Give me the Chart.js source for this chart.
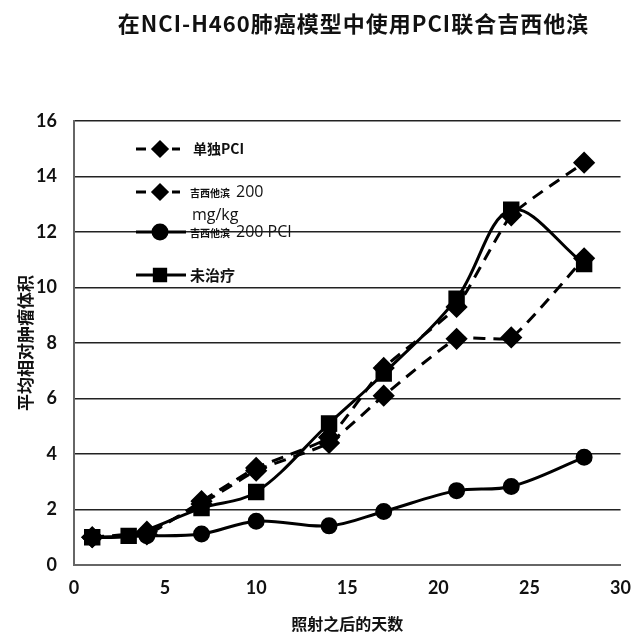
<!DOCTYPE html>
<html>
<head>
<meta charset="utf-8">
<script src="https://cdn.jsdelivr.net/npm/chart.js@4.4.1/dist/chart.umd.min.js"></script>
<style>
    body { margin: 0; background: #fff; }
    #wrap { position: relative; width: 643px; height: 638px; }
    #titulo {
        position: absolute; left: 62px; top: 6px; width: 583px;
        text-align: center; font-family: "Noto Sans CJK SC"; font-weight: 700;
        font-size: 22px; color: #111; letter-spacing: 1px;
    }
</style>
</head>
<body>
<div id="wrap">
    <div id="titulo">在NCI-H460肺癌模型中使用PCI联合吉西他滨</div>
    <canvas id="grafico"></canvas>
</div>
<script>
const seriesNames = ["单独PCI", "吉西他滨 200 mg/kg", "吉西他滨 200 PCI", "未治疗"];

const daysPci = [1, 4, 7, 10, 14, 17, 21, 24, 28];
const valuesPci = [1.0, 1.2, 2.2, 3.4, 4.4, 6.1, 8.15, 8.2, 11.05];

const daysGem = [1, 4, 7, 10, 14, 17, 21, 24, 28];
const valuesGem = [1.0, 1.1, 2.3, 3.5, 4.6, 7.1, 9.3, 12.6, 14.5];

const daysCombo = [1, 4, 7, 10, 14, 17, 21, 24, 28];
const valuesCombo = [1.0, 1.05, 1.12, 1.58, 1.41, 1.93, 2.68, 2.83, 3.88];

const daysUntreated = [1, 3, 7, 10, 14, 17, 21, 24, 28];
const valuesUntreated = [1.0, 1.05, 2.05, 2.63, 5.1, 6.9, 9.6, 12.8, 10.85];

const xTicks = [0, 5, 10, 15, 20, 25, 30];
const yTicks = [0, 2, 4, 6, 8, 10, 12, 14, 16];

const canvas = document.getElementById("grafico");
canvas.width = 643;
canvas.height = 638;

function toPoints(days, values) {
    return days.map((d, i) => ({ x: d, y: values[i] }));
}

const baseDataset = {
    borderColor: "#000",
    backgroundColor: "#000",
    pointBorderColor: "#000",
    pointBackgroundColor: "#000",
    borderWidth: 3,
    tension: 0.35,
};

const datasets = [
    { ...baseDataset, label: seriesNames[0], data: toPoints(daysPci, valuesPci),
      borderDash: [12, 8], pointStyle: "rectRot", pointRadius: 9, tension: 0.15 },
    { ...baseDataset, label: seriesNames[1], data: toPoints(daysGem, valuesGem),
      borderDash: [12, 8], pointStyle: "rectRot", pointRadius: 9, tension: 0.15 },
    { ...baseDataset, label: seriesNames[2], data: toPoints(daysCombo, valuesCombo),
      pointStyle: "circle", pointRadius: 7 },
    { ...baseDataset, label: seriesNames[3], data: toPoints(daysUntreated, valuesUntreated),
      pointStyle: "rect", pointRadius: 9.5 },
];

// legenda desenhada dentro da área do gráfico
const legendaInterna = {
    id: "legendaInterna",
    afterDatasetsDraw(chart) {
        const ctx = chart.ctx;
        const rows = [149, 192, 232, 275];
        ctx.save();
        chart.data.datasets.forEach((ds, i) => {
            const y = rows[i];
            ctx.strokeStyle = "#000";
            ctx.lineWidth = 3;
            ctx.setLineDash(ds.borderDash ? [10, 8] : []);
            ctx.beginPath();
            ctx.moveTo(136, y);
            ctx.lineTo(ds.borderDash ? 180 : 186, y);
            ctx.stroke();
            ctx.setLineDash([]);
            ctx.fillStyle = "#000";
            Chart.helpers.drawPoint(ctx, {
                pointStyle: ds.pointStyle, radius: ds.pointStyle === "rect" ? 8 : 7,
                borderWidth: 1, rotation: 0,
            }, 160, y);
        });
        ctx.fillStyle = "#111";
        ctx.textBaseline = "middle";
        ctx.textAlign = "left";
        ctx.font = "bold 14px 'Noto Sans CJK SC'";
        ctx.fillText("单独PCI", 193, rows[0]);
        ctx.font = "bold 10px 'Noto Sans CJK SC'";
        ctx.fillText("吉西他滨", 190, rows[1] + 1);
        ctx.fillText("吉西他滨", 190, rows[2] + 1);
        ctx.font = "16px 'Open Sans'";
        ctx.fillText("200", 236, rows[1]);
        ctx.fillText("mg/kg", 192, rows[1] + 23);
        ctx.fillText("200 PCI", 236, rows[2]);
        ctx.font = "bold 15px 'Noto Sans CJK SC'";
        ctx.fillText("未治疗", 190, rows[3]);
        ctx.restore();
    },
};

const options = {
    responsive: false,
    animation: false,
    layout: { padding: { top: 121, right: 20, left: 0, bottom: 0 } },
    scales: {
        x: {
            type: "linear",
            min: 0,
            max: 30,
            afterBuildTicks: (scale) => { scale.ticks = xTicks.map((v) => ({ value: v })); },
            afterFit: (scale) => { scale.height = 73; },
            grid: { display: false, drawTicks: false },
            border: { display: true, color: "#666", width: 2 },
            ticks: {
                padding: 12,
                color: "#111",
                font: { family: "Lato", size: 18, weight: "bold" },
            },
            title: {
                display: true,
                text: "照射之后的天数",
                color: "#111",
                padding: { top: 6 },
                font: { family: "Noto Sans CJK SC", size: 16, weight: "bold" },
            },
        },
        y: {
            min: 0,
            max: 16,
            afterBuildTicks: (scale) => { scale.ticks = yTicks.map((v) => ({ value: v })); },
            afterFit: (scale) => { scale.width = 74; },
            grid: { color: "#222", lineWidth: 1.5, drawTicks: false },
            border: { display: true, color: "#666", width: 2 },
            ticks: {
                padding: 17,
                color: "#111",
                font: { family: "Lato", size: 18, weight: "bold" },
            },
            title: {
                display: true,
                text: "平均相对肿瘤体积",
                color: "#111",
                padding: { top: 15, bottom: 0 },
                font: { family: "Noto Sans CJK SC", size: 17, weight: "bold" },
            },
        },
    },
    plugins: {
        legend: { display: false },
        title: { display: false },
        tooltip: { enabled: false },
    },
};

new Chart(canvas, {
    type: "line",
    data: { datasets: datasets },
    options: options,
    plugins: [legendaInterna],
});
</script>
</body>
</html>
